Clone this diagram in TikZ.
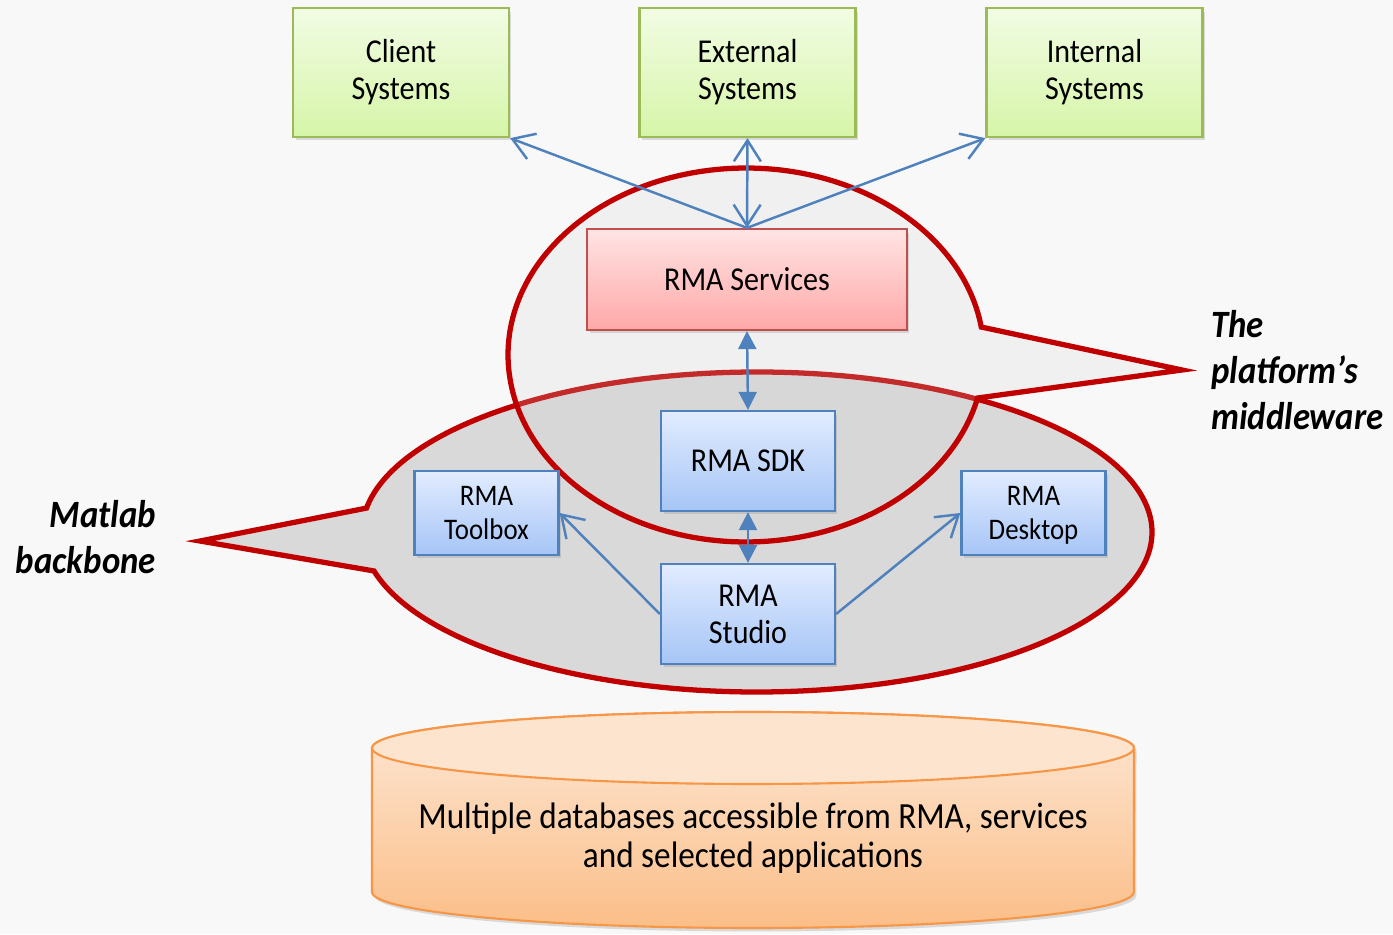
\documentclass[tikz,border=0pt]{standalone}
\usepackage{fontspec}
\setmainfont{Carlito}[FakeStretch=0.9]
\usetikzlibrary{arrows.meta,shadows}
\definecolor{bgcol}{RGB}{248,248,248}
\definecolor{calloutred}{RGB}{192,0,0}
\definecolor{mwfill}{RGB}{210,210,210}
\definecolor{mlfill}{RGB}{217,217,217}
\definecolor{sysline}{RGB}{155,187,89}
\definecolor{systop}{RGB}{242,252,228}
\definecolor{sysbot}{RGB}{214,245,168}
\definecolor{srvline}{RGB}{192,80,77}
\definecolor{srvtop}{RGB}{255,228,228}
\definecolor{srvbot}{RGB}{255,168,168}
\definecolor{rmaline}{RGB}{79,129,189}
\definecolor{rmatop}{RGB}{226,236,255}
\definecolor{rmabot}{RGB}{166,197,246}
\definecolor{linkblue}{RGB}{79,129,189}
\definecolor{dbline}{RGB}{247,150,70}
\definecolor{dbtop}{RGB}{253,232,214}
\definecolor{dbbot}{RGB}{251,190,136}
\definecolor{dbcap}{RGB}{253,228,206}
\newcommand{\boxfont}{\fontsize{19}{21}\selectfont}
\newcommand{\smallboxfont}{\fontsize{17}{19}\selectfont}
\newcommand{\dbfont}{\fontsize{21}{22}\selectfont}
\newcommand{\notefont}{\fontsize{22}{26}\selectfont\bfseries\itshape}
\tikzset{
  shade box/.style={line width=1.3pt, align=center, font=\boxfont,
    drop shadow={opacity=0.25, shadow xshift=0.05cm, shadow yshift=-0.07cm}},
  sysbox/.style={shade box, draw=sysline, top color=systop, bottom color=sysbot,
    minimum width=4.32cm, minimum height=2.58cm},
  srvbox/.style={shade box, draw=srvline, top color=srvtop, bottom color=srvbot,
    minimum width=6.4cm, minimum height=2.02cm},
  rmabox/.style={shade box, draw=rmaline, top color=rmatop, bottom color=rmabot,
    minimum width=3.48cm, minimum height=2cm},
  appbox/.style={rmabox, font=\smallboxfont, text depth=0pt,
    minimum width=2.88cm, minimum height=1.68cm},
  callout/.style={draw=calloutred, line width=3pt},
  conn/.style={draw=linkblue, line width=1.4pt},
  fat/.style={conn, {Triangle[length=0.36cm,width=0.36cm]}-{Triangle[length=0.36cm,width=0.36cm]}},
  >={Straight Barb[length=0.42cm,width=0.54cm]}
}
\begin{document}
\begin{tikzpicture}[x=0.02cm, y=0.02cm]
    \useasboundingbox (0,0) rectangle (1393,934);
    \fill[bgcol] (0,0) rectangle (1393,934);
    \draw[callout, fill=mlfill] (757,402) ++(194.1:7.9cm and 3.2cm)
        arc[start angle=194.1, end angle=531.4, x radius=7.9cm, y radius=3.2cm] -- (200,393) -- cycle;
    \draw[callout, fill=mwfill, fill opacity=0.2] (746,579) ++(8.6:4.76cm and 3.74cm)
        arc[start angle=8.6, end angle=346.7, x radius=4.76cm, y radius=3.74cm] -- (1182,564) -- cycle;
    \node[font=\notefont, align=left, anchor=west] (middleware) at (1205,564) {The\\platform’s\\middleware};
    \node[font=\notefont, align=right, anchor=east] (backbone) at (162,397) {Matlab\\backbone};
    \node[sysbox] (client) at (401,861.5) {Client\\Systems};
    \node[sysbox] (external) at (747.5,861.5) {External\\Systems};
    \node[sysbox] (internal) at (1094.5,861.5) {Internal\\Systems};
    \node[srvbox] (services) at (747,654.5) {RMA Services};
    \node[rmabox] (sdk) at (748,473) {RMA SDK};
    \node[rmabox] (studio) at (748,320) {RMA\\Studio};
    \node[appbox] (toolbox) at (486.5,421) {RMA\\Toolbox};
    \node[appbox] (desktop) at (1033.5,421) {RMA\\Desktop};
    \draw[conn, <-] (client.south east) -- (services.north);
    \draw[conn, <->] (external.south) -- (services.north);
    \draw[conn, <-] (internal.south west) -- (services.north);
    \draw[fat] (services.south) -- (sdk.north);
    \draw[fat] (sdk.south) -- (studio.north);
    \draw[conn, ->] (studio.west) -- (toolbox.east);
    \draw[conn, ->] (studio.east) -- (desktop.west);
    \draw[line width=1.2pt, draw=dbline, top color=dbtop, bottom color=dbbot,
        drop shadow={opacity=0.25, shadow xshift=0.05cm, shadow yshift=-0.07cm}]
        (372,186) -- (372,42) arc[start angle=180, end angle=360, x radius=7.62cm, y radius=0.72cm]
        -- (1134,186) arc[start angle=0, end angle=180, x radius=7.62cm, y radius=0.72cm] -- cycle;
    \draw[line width=1.2pt, draw=dbline, fill=dbcap] (753,186) ellipse[x radius=7.62cm, y radius=0.72cm];
    \node[font=\dbfont, align=center] (db) at (753,96) {Multiple databases accessible from RMA, services\\and selected applications};
\end{tikzpicture}
\end{document}
